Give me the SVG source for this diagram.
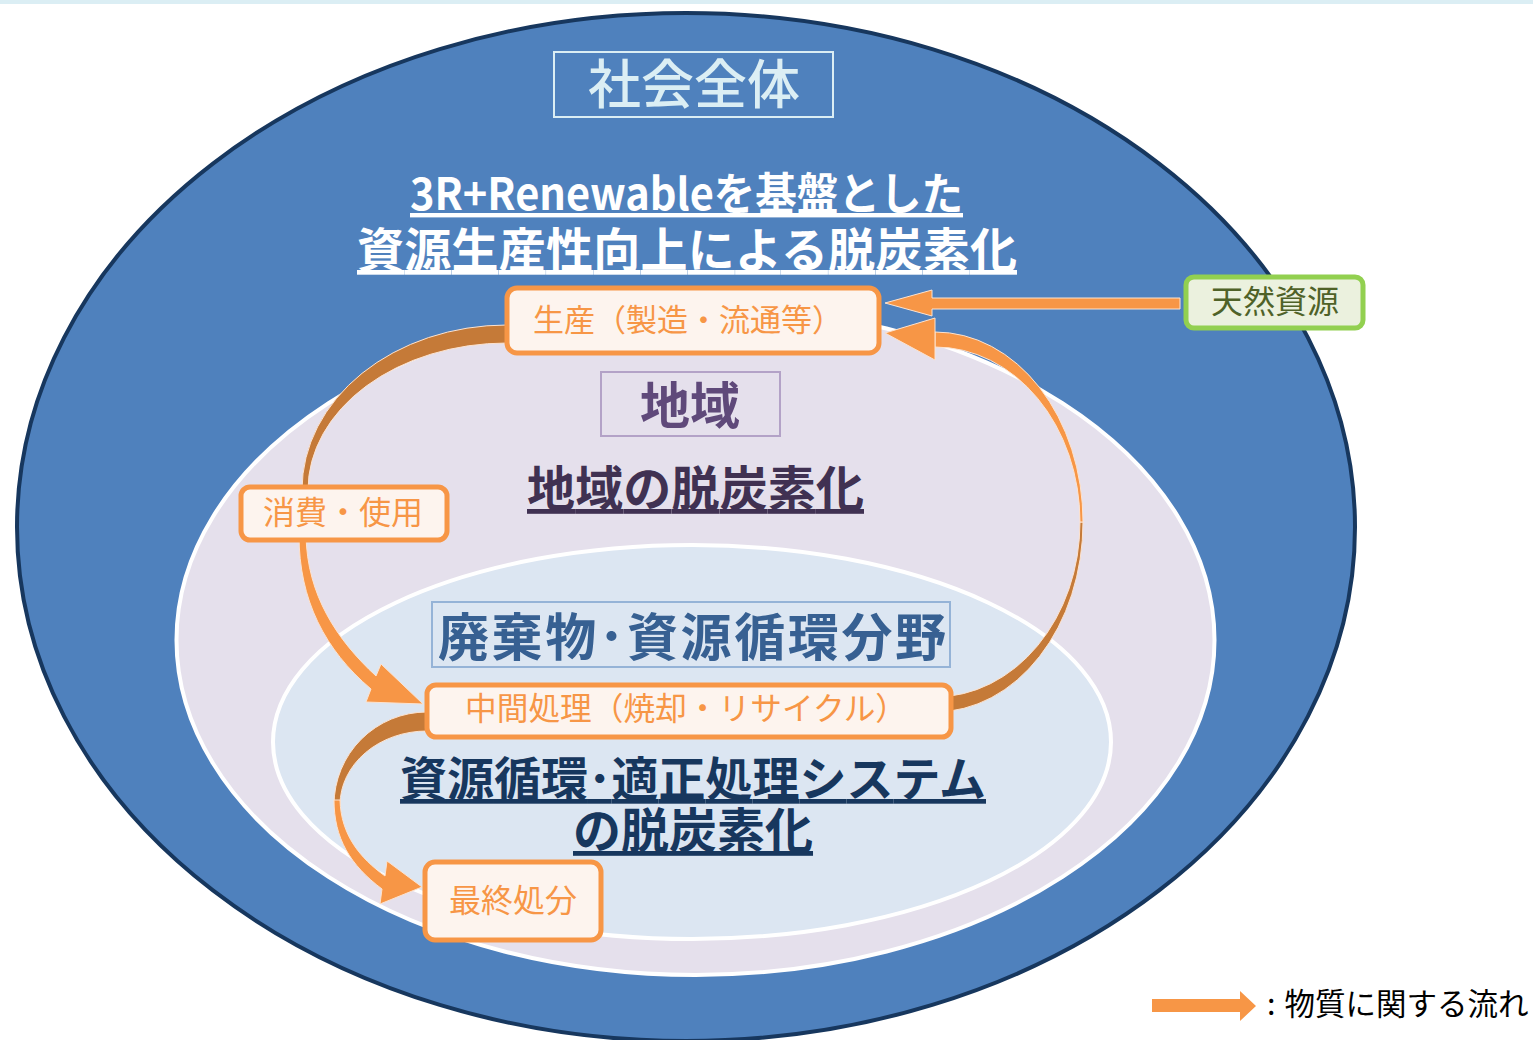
<svg xmlns="http://www.w3.org/2000/svg" width="1533" height="1040" viewBox="0 0 1533 1040">
<defs>
<style>
text{font-family:"Noto Sans CJK JP","Noto Sans CJK SC",sans-serif;}
.box{fill:#fdf4ee;stroke:#f79646;stroke-width:5;}
.bt{fill:#f79646;font-size:31px;}
.b{font-weight:bold;}
.ul{text-decoration:underline;}
.lt{fill:#f79646;stroke:#fde3cf;stroke-width:1;}
.dk{fill:#c57a38;stroke:#fde3cf;stroke-width:1;}
</style>
</defs>
<rect width="1533" height="1040" fill="#ffffff"/>
<rect width="1533" height="4" fill="#dbeef4"/>

<g id="society">
<ellipse cx="686" cy="527" rx="669" ry="514" fill="#4f81bd" stroke="#17375e" stroke-width="4"/>
<rect x="554" y="52" width="279" height="65" fill="none" stroke="#dbeef4" stroke-width="2"/>
<text x="694" y="104" text-anchor="middle" font-size="53" fill="#dbeef4" font-weight="500">社会全体</text>
<text fill="#ffffff" class="b ul"><tspan x="410" y="210" font-size="44" textLength="553" lengthAdjust="spacingAndGlyphs">3R+Renewableを基盤とした</tspan><tspan x="357" y="267" font-size="47" textLength="660">資源生産性向上による脱炭素化</tspan></text>
</g>

<g id="region">
<ellipse cx="695.5" cy="640" rx="519" ry="335" fill="#e5e0ec" stroke="#ffffff" stroke-width="4"/>
<rect x="601" y="372" width="179" height="64" fill="none" stroke="#b3a2c7" stroke-width="2"/>
<text x="690" y="424" text-anchor="middle" font-size="50" fill="#5f497a" class="b">地域</text>
<text x="527" y="506" font-size="48" fill="#403152" class="b ul" textLength="337">地域の脱炭素化</text>
</g>

<g id="waste-sector">
<ellipse cx="692" cy="742" rx="419" ry="197" fill="#dce6f2" stroke="#ffffff" stroke-width="4"/>
<rect x="432" y="602" width="518" height="65" fill="#dce6f2" stroke="#95b3d7" stroke-width="2"/>
<text x="438" y="656" font-size="51" fill="#376092" class="b" textLength="508">廃棄物･資源循環分野</text>
<text fill="#17375e" class="b ul"><tspan x="400" y="796" font-size="47" textLength="586">資源循環･適正処理システム</tspan><tspan x="573" y="848" font-size="48">の脱炭素化</tspan></text>
</g>

<g id="connectors">
<polygon class="lt" points="1180,298 932,298 932,290 885,303 932,316 932,309 1180,309"/>
<path class="dk" d="M1083,522 A148,190 0 0 1 935,712 L935,697 A145,175 0 0 0 1080,522 Z"/>
<path class="lt" d="M935,332 A148,190 0 0 1 1083,522 L1080,522 A145,175 0 0 0 935,347 Z"/>
<polygon class="lt" points="935,318 885,333 935,360"/>
<path class="dk" d="M507,325 A205,165 0 0 0 302,490 L308,490 A199,147 0 0 1 507,343 Z"/>
<path class="lt" d="M299,535 C299,600 325,650 371,689 L366,702 L423,704 L381,664 L376,676 C337,640 307,595 306,535 Z"/>
<path class="dk" d="M427,712 A93,93 0 0 0 334,805 L340,805 A87,74 0 0 1 427,731 Z"/>
<path class="lt" d="M334,800 C334,838 350,865 382,889 L380,904 L422,887 L387,861 L385,876 C360,858 341,835 340,800 Z"/>
</g>

<g id="production">
<rect class="box" x="507" y="288" width="372" height="65" rx="10"/>
<text class="bt" x="533" y="331">生産（製造・流通等）</text>
</g>
<g id="consumption">
<rect class="box" x="241" y="487" width="206" height="53" rx="9"/>
<text class="bt" x="263" y="524" style="font-size:32px">消費・使用</text>
</g>
<g id="intermediate">
<rect class="box" x="427" y="685" width="524" height="52" rx="9"/>
<text class="bt" x="465" y="720" style="font-size:31.7px">中間処理（焼却・リサイクル）</text>
</g>
<g id="final-disposal">
<rect class="box" x="425" y="862" width="176" height="78" rx="10"/>
<text class="bt" x="449" y="912" style="font-size:32px">最終処分</text>
</g>
<g id="natural-resources">
<rect x="1186" y="277" width="177" height="51" rx="8" fill="#ebf1de" stroke="#92d050" stroke-width="5"/>
<text x="1211" y="313" font-size="32" fill="#4f6228">天然資源</text>
</g>

<g id="legend">
<polygon points="1152,999 1240,999 1240,991 1256,1006 1240,1021 1240,1012 1152,1012" fill="#f79646"/>
<text x="1267" y="1015" font-size="30.5" fill="#000000">:<tspan dx="9">物質に関する流れ</tspan></text>
</g>
</svg>
